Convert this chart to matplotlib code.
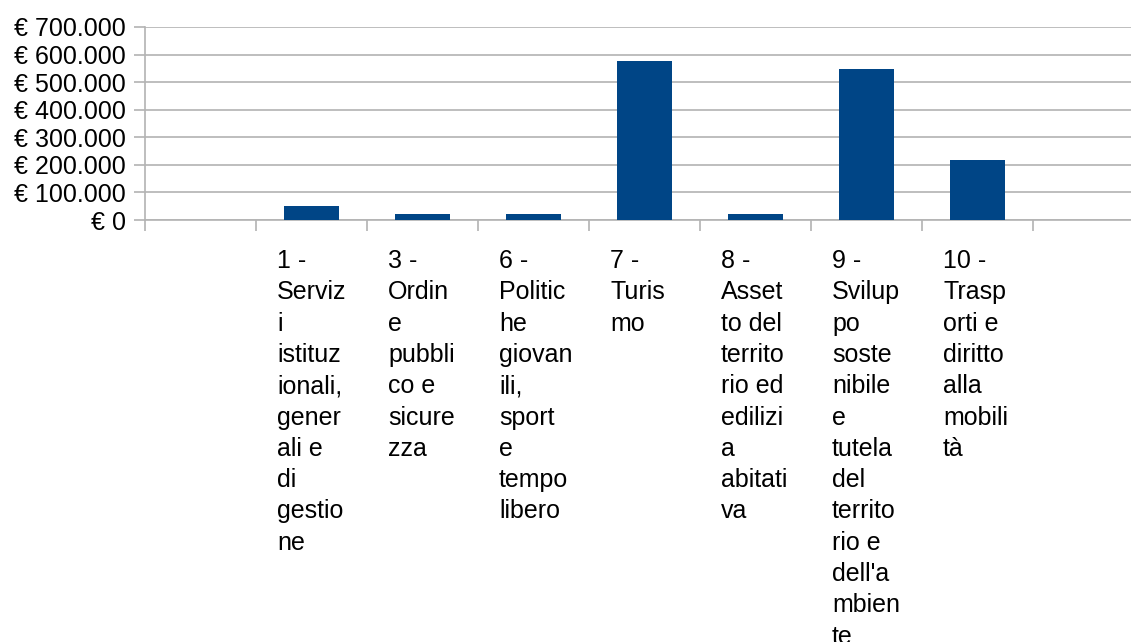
import matplotlib
matplotlib.use("Agg")
import matplotlib.pyplot as plt
import matplotlib.transforms as mtransforms
from matplotlib.ticker import FuncFormatter, MultipleLocator, FixedLocator
import numpy as np

# categories as wrapped in the original chart (first and last slot are empty)
labels = [
    "",
    "1 -\nServiz\ni\nistituz\nionali,\ngener\nali e\ndi\ngestio\nne",
    "3 -\nOrdin\ne\npubbli\nco e\nsicure\nzza",
    "6 -\nPolitic\nhe\ngiovan\nili,\nsport\ne\ntempo\nlibero",
    "7 -\nTuris\nmo",
    "8 -\nAsset\nto del\nterrito\nrio ed\nedilizi\na\nabitati\nva",
    "9 -\nSvilup\npo\nsoste\nnibile\ne\ntutela\ndel\nterrito\nrio e\ndell'a\nmbien\nte",
    "10 -\nTrasp\norti e\ndiritto\nalla\nmobili\ntà",
    "",
]
values = [0, 51000, 22000, 22000, 576000, 22000, 547000, 217000, 0]

plt.rcParams['font.family'] = ['Liberation Sans', 'DejaVu Sans']

W, H = 1131, 642
fig = plt.figure(figsize=(W / 100, H / 100), dpi=100)
# plot area runs past the right edge, as in the reference
ax = fig.add_axes([145 / W, (H - 220) / H, 999 / W, 193 / H])

x = np.arange(len(values))
ax.bar(x, values, width=0.5, color='#004586', zorder=3)

ax.set_xlim(-0.5, len(values) - 0.5)
ax.set_ylim(0, 700000)
ax.yaxis.set_major_locator(MultipleLocator(100000))

def euro(v, pos):
    return "€ " + f"{int(v):,}".replace(",", ".")

ax.yaxis.set_major_formatter(FuncFormatter(euro))
ax.grid(axis='y', color='#b3b3b3', linewidth=1.2, zorder=0)

grey = '#b3b3b3'
for side in ['top', 'right']:
    ax.spines[side].set_visible(False)
for side in ['left', 'bottom']:
    ax.spines[side].set_color(grey)
    ax.spines[side].set_linewidth(1.2)

ax.tick_params(axis='y', length=8, width=1.2, color=grey, pad=6, labelsize=18)
ax.xaxis.set_major_locator(FixedLocator(np.arange(len(values) + 1) - 0.5))
ax.xaxis.set_major_formatter(FuncFormatter(lambda v, p: ""))
ax.tick_params(axis='x', length=8, width=1.2, color=grey)

# wrapped category labels, left aligned inside each slot
trans = mtransforms.blended_transform_factory(ax.transData, ax.transAxes)
for i, lab in enumerate(labels):
    if lab:
        ax.text(i - 0.5 + 0.19, -0.15, lab, transform=trans, ha='left', va='top',
                fontsize=18, linespacing=1.385)

fig.savefig("out.png", dpi=100)
